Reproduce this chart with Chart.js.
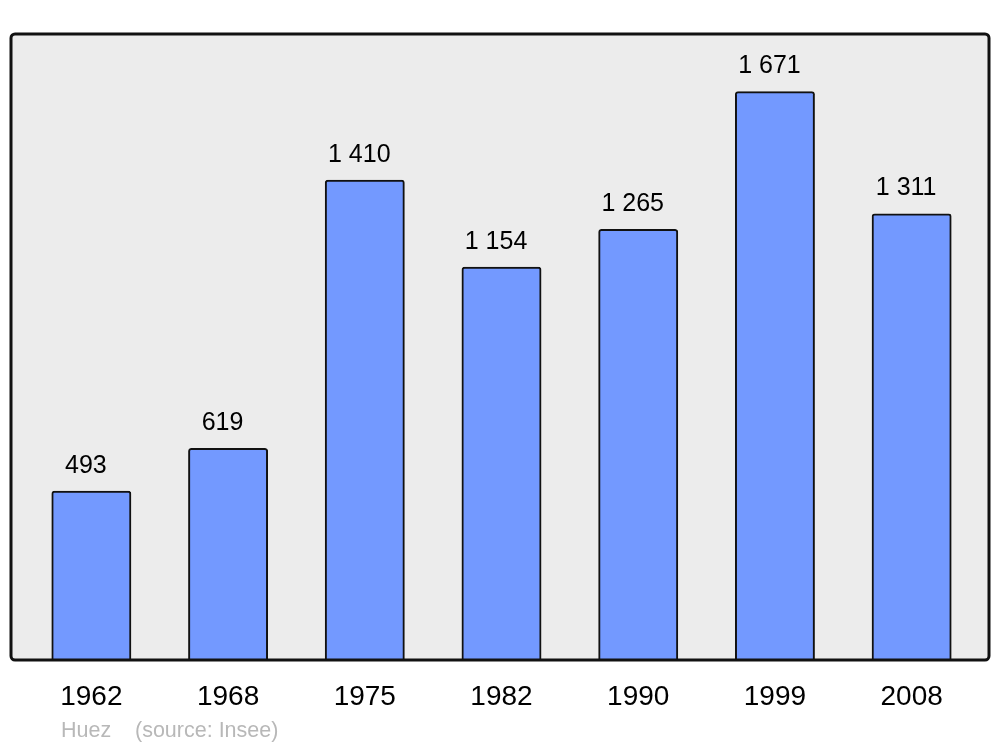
<!DOCTYPE html>
<html>
<head>
<meta charset="utf-8">
<script src="https://cdn.jsdelivr.net/npm/chart.js@4"></script>
<style>
html,body{margin:0;padding:0;background:#fff;}
#wrap{width:1000px;height:747px;position:relative;}
</style>
</head>
<body>
<div id="wrap"><canvas id="c" width="1000" height="747"></canvas></div>
<script>
const years = ["1962","1968","1975","1982","1990","1999","2008"];
const population = [493, 619, 1410, 1154, 1265, 1671, 1311];
const valueLabels = ["493","619","1 410","1 154","1 265","1 671","1 311"];
const footerName = "Huez";
const footerSource = "(source: Insee)";

const FONT = "'Liberation Sans', Arial, sans-serif";

const framePlugin = {
  id: 'frame',
  beforeDatasetsDraw(chart) {
    const ctx = chart.ctx;
    const a = chart.chartArea;
    const x0 = a.left - 12, x1 = a.right + 9, y0 = a.top - 1, y1 = a.bottom + 1;
    ctx.save();
    ctx.beginPath();
    ctx.roundRect(x0, y0, x1 - x0, y1 - y0, 4);
    ctx.fillStyle = '#ececec';
    ctx.fill();
    ctx.restore();
  },
  afterDatasetsDraw(chart) {
    const ctx = chart.ctx;
    const a = chart.chartArea;
    const x0 = a.left - 12, x1 = a.right + 9, y0 = a.top - 1, y1 = a.bottom + 1;
    ctx.save();
    ctx.beginPath();
    ctx.roundRect(x0, y0, x1 - x0, y1 - y0, 4);
    ctx.lineWidth = 3;
    ctx.strokeStyle = '#111';
    ctx.stroke();
    // value labels
    const meta = chart.getDatasetMeta(0);
    ctx.fillStyle = '#000';
    ctx.font = '25px ' + FONT;
    ctx.textAlign = 'center';
    ctx.textBaseline = 'alphabetic';
    meta.data.forEach((bar, i) => {
      ctx.fillText(valueLabels[i], bar.x - 5.5, bar.y - 19);
    });
    // footer
    ctx.fillStyle = '#b8b8b8';
    ctx.font = '21.5px ' + FONT;
    ctx.textAlign = 'left';
    ctx.fillText(footerName, 61, 737);
    ctx.fillText(footerSource, 135, 737);
    ctx.restore();
  }
};

new Chart(document.getElementById('c'), {
  type: 'bar',
  data: {
    labels: years,
    datasets: [{
      data: population,
      backgroundColor: '#7399ff',
      borderColor: '#111',
      borderWidth: 2,
      borderSkipped: 'bottom',
      borderRadius: {topLeft: 3, topRight: 3, bottomLeft: 0, bottomRight: 0},
      inflateAmount: 1,
      barPercentage: 0.57,
      categoryPercentage: 1.0
    }]
  },
  options: {
    responsive: false,
    animation: false,
    events: [],
    layout: { padding: { left: 23, right: 20, top: 35, bottom: 0 } },
    plugins: { legend: { display: false }, tooltip: { enabled: false } },
    scales: {
      x: {
        grid: { display: false, drawTicks: false },
        border: { display: false },
        ticks: { color: '#000', font: { family: FONT, size: 28 }, padding: 21, maxRotation: 0, autoSkip: false },
        afterFit(scale) { scale.height = 88; }
      },
      y: {
        display: false,
        min: 0,
        max: 1840
      }
    }
  },
  plugins: [framePlugin]
});
</script>
</body>
</html>
